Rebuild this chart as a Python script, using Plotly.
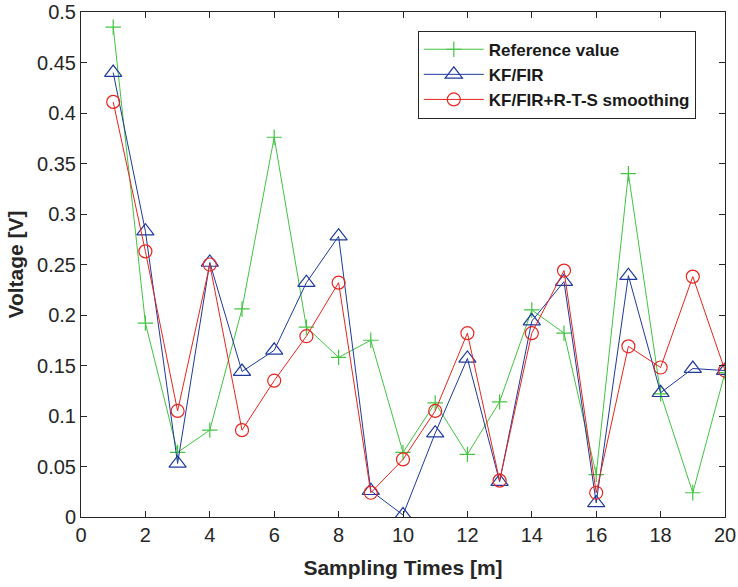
import plotly.graph_objects as go

x = list(range(1, 21))
reference_value = [0.485, 0.192, 0.064, 0.086, 0.206, 0.376, 0.188, 0.158, 0.175, 0.064,
                   0.113, 0.062, 0.114, 0.205, 0.182, 0.042, 0.340, 0.122, 0.024, 0.143]
kf_fir = [0.440, 0.283, 0.053, 0.252, 0.144, 0.165, 0.232, 0.278, 0.026, 0.002,
          0.083, 0.157, 0.035, 0.194, 0.233, 0.014, 0.239, 0.123, 0.147, 0.145]
kf_fir_rts = [0.411, 0.263, 0.105, 0.250, 0.086, 0.135, 0.179, 0.232, 0.024, 0.057,
              0.105, 0.182, 0.036, 0.182, 0.244, 0.024, 0.169, 0.148, 0.238, 0.145]

x_ticks = [0, 2, 4, 6, 8, 10, 12, 14, 16, 18, 20]
y_ticks = [0, 0.05, 0.1, 0.15, 0.2, 0.25, 0.3, 0.35, 0.4, 0.45, 0.5]
y_tick_labels = ["0", "0.05", "0.1", "0.15", "0.2", "0.25", "0.3", "0.35", "0.4", "0.45", "0.5"]

GREEN = "#43c443"
BLUE = "#1f3a9e"
RED = "#e8251f"

fig = go.Figure()
fig.add_trace(go.Scatter(
    x=x, y=reference_value, mode="lines+markers", name="<b>Reference value</b>",
    line=dict(color=GREEN, width=1),
    marker=dict(symbol="cross-thin", size=11, line=dict(color=GREEN, width=1.2)),
))
fig.add_trace(go.Scatter(
    x=x, y=kf_fir, mode="lines+markers", name="<b>KF/FIR</b>",
    line=dict(color=BLUE, width=1),
    marker=dict(symbol="triangle-up-open", size=15, color=BLUE, line=dict(color=BLUE, width=1.2)),
))
fig.add_trace(go.Scatter(
    x=x, y=kf_fir_rts, mode="lines+markers", name="<b>KF/FIR+R-T-S smoothing</b>",
    line=dict(color=RED, width=1),
    marker=dict(symbol="circle-open", size=13, color=RED, line=dict(color=RED, width=1.2)),
))

axis_common = dict(
    showline=True, linecolor="#262626", linewidth=1, mirror="ticks",
    ticks="inside", ticklen=6, tickcolor="#262626", tickwidth=1,
    showgrid=False, zeroline=False, automargin=False,
    ticklabeloverflow="allow",
    tickfont=dict(family="Liberation Sans, Arial", size=20, color="#262626"),
)

fig.update_layout(
    width=738, height=587,
    margin=dict(l=81, r=13, t=12, b=70),
    paper_bgcolor="white", plot_bgcolor="white",
    xaxis=dict(range=[0, 20], tickvals=x_ticks,
               title=dict(text="<b>Sampling Times [m]</b>", standoff=15,
                          font=dict(family="Liberation Sans, Arial", size=21, color="#262626")),
               **axis_common),
    yaxis=dict(range=[0, 0.5], tickvals=y_ticks, ticktext=y_tick_labels,
               title=dict(text="<b>Voltage [V]</b>", standoff=7,
                          font=dict(family="Liberation Sans, Arial", size=21, color="#262626")),
               **axis_common),
    legend=dict(x=0.523, y=0.963, xanchor="left", yanchor="top",
                bgcolor="white", bordercolor="#262626", borderwidth=1,
                font=dict(family="Liberation Sans, Arial", size=17, color="#1a1a1a"),
                itemwidth=60, tracegroupgap=0),
    showlegend=True,
)

fig.write_html("out.html", config={"displayModeBar": False},
               post_script="document.body.style.margin='0';")
